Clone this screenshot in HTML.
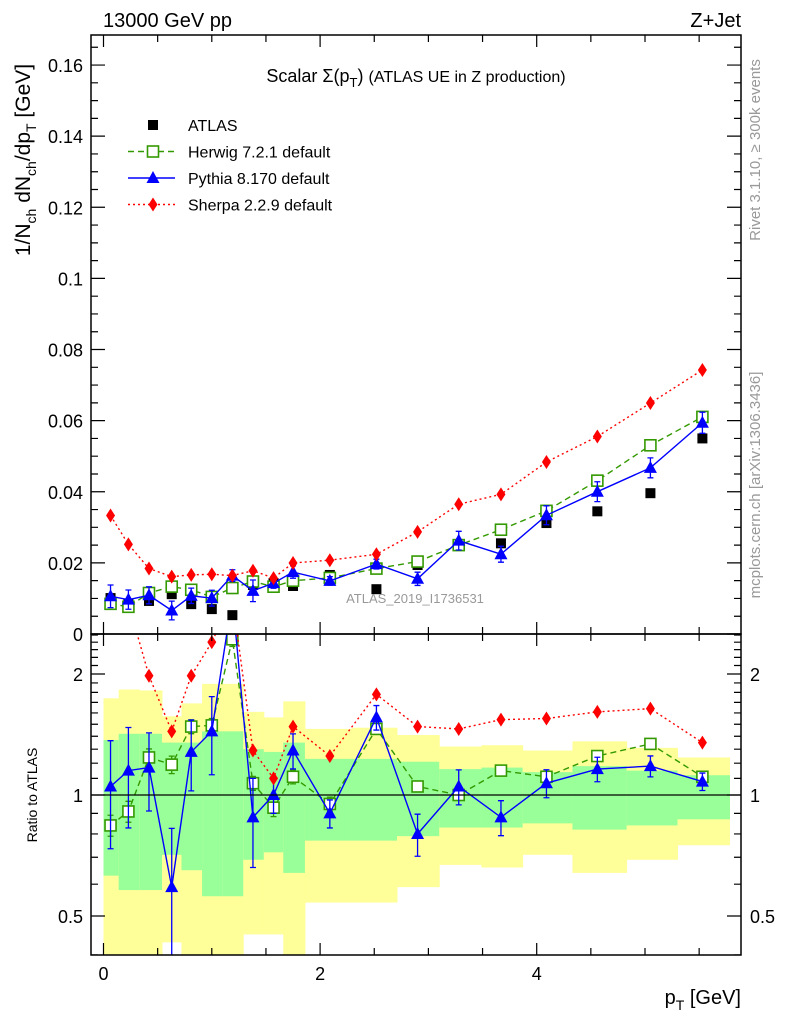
<!DOCTYPE html>
<html><head><meta charset="utf-8"><style>
body{margin:0;background:#fff;}
svg{display:block;font-family:"Liberation Sans",sans-serif;}
</style></head><body>
<svg id="c" width="786" height="1024" xmlns="http://www.w3.org/2000/svg">
<defs>
<clipPath id="cm"><rect x="91" y="35" width="650" height="599"/></clipPath>
<clipPath id="cr"><rect x="91" y="634" width="650" height="321"/></clipPath>
</defs>
<g id="bands" clip-path="url(#cr)"></g>
<g id="marks"></g>
<g id="axes"></g>
<text x="103" y="27" font-size="20">13000 GeV pp</text>
<text x="741" y="27" font-size="20" text-anchor="end">Z+Jet</text>
<text x="416" y="82" font-size="18" text-anchor="middle">Scalar Σ(p<tspan font-size="13" dy="5">T</tspan><tspan dy="-5">) </tspan><tspan font-size="16">(ATLAS UE in Z production)</tspan></text>
<text x="415" y="603" font-size="13" fill="#999" text-anchor="middle">ATLAS_2019_I1736531</text>
<text transform="translate(760,150) rotate(-90)" font-size="15" fill="#999" text-anchor="middle">Rivet 3.1.10, ≥ 300k events</text>
<text transform="translate(760,485) rotate(-90)" font-size="15" fill="#999" text-anchor="middle">mcplots.cern.ch [arXiv:1306.3436]</text>
<text transform="translate(30,160) rotate(-90)" font-size="21" text-anchor="middle">1/N<tspan font-size="14" dy="6">ch</tspan><tspan dy="-6"> dN</tspan><tspan font-size="14" dy="6">ch</tspan><tspan dy="-6">/dp</tspan><tspan font-size="14" dy="6">T</tspan><tspan dy="-6"> [GeV]</tspan></text>
<text transform="translate(37,795) rotate(-90)" font-size="14" text-anchor="middle">Ratio to ATLAS</text>
<text x="741" y="1004" font-size="20" text-anchor="end">p<tspan font-size="14" dy="6">T</tspan><tspan dy="-6"> [GeV]</tspan></text>
<g id="legend"></g>
</svg>
<script>
const binEdges=[0,0.14,0.33,0.54,0.72,0.91,1.1,1.29,1.48,1.66,1.86,2.29,2.71,3.1,3.49,3.87,4.33,4.83,5.3,5.78];
const xCenters=[0.065,0.23,0.42,0.63,0.81,1.0,1.19,1.38,1.57,1.75,2.09,2.52,2.9,3.28,3.67,4.09,4.56,5.05,5.53];
const atlasVals=[0.0101,0.0084,0.0093,0.0112,0.0084,0.0070,0.0053,0.0138,0.0143,0.0135,0.0166,0.0126,0.0194,0.0250,0.0255,0.0312,0.0345,0.0396,0.0550];
const herwigRatio=[0.84,0.91,1.24,1.19,1.48,1.49,2.44,1.07,0.93,1.11,0.95,1.46,1.05,1.0,1.15,1.11,1.25,1.34,1.11];
const pythiaRatio=[1.05,1.15,1.17,0.59,1.28,1.44,3.1,0.88,1.0,1.29,0.9,1.56,0.8,1.05,0.88,1.07,1.16,1.18,1.08];
const sherpaRatio=[3.3,3.0,1.98,1.44,1.98,2.4,3.1,1.29,1.10,1.48,1.25,1.78,1.48,1.46,1.54,1.55,1.61,1.64,1.35];
const pythiaRelErr=[0.3,0.28,0.22,0.4,0.2,0.22,0.1,0.25,0.1,0.1,0.08,0.07,0.12,0.1,0.1,0.08,0.07,0.06,0.05];
const herwigRelErr=[0.06,0.06,0.05,0.05,0.04,0.04,0.04,0.04,0.05,0.04,0.04,0.03,0.02,0.02,0.02,0.02,0.02,0.02,0.02];
const greenHi=[1.37,1.42,1.42,1.35,1.35,1.44,1.44,1.30,1.28,1.35,1.23,1.23,1.21,1.16,1.17,1.14,1.18,1.15,1.12];
const greenLo=[0.63,0.58,0.58,0.71,0.65,0.56,0.56,0.69,0.72,0.64,0.77,0.77,0.79,0.83,0.83,0.85,0.82,0.84,0.87];
const yellowHi=[1.74,1.83,1.82,1.57,1.69,1.89,1.89,1.61,1.56,1.71,1.46,1.47,1.41,1.32,1.33,1.29,1.36,1.31,1.24];
const yellowLo=[0.3,0.3,0.3,0.43,0.3,0.3,0.3,0.45,0.45,0.3,0.54,0.54,0.59,0.67,0.66,0.71,0.64,0.69,0.75];
const mainTicks=[0,0.02,0.04,0.06,0.08,0.1,0.12,0.14,0.16];
const mainTickLabels=["0","0.02","0.04","0.06","0.08","0.1","0.12","0.14","0.16"];
const xTicks=[0,2,4];
const ratioTicks=[0.5,1,2];

const NS="http://www.w3.org/2000/svg";
const X=v=>103.5+v*108.3;
const Y=v=>634-v*3556;
const R=r=>795-121*Math.log2(r);
function el(tag,attrs,parent){const e=document.createElementNS(NS,tag);for(const k in attrs)e.setAttribute(k,attrs[k]);parent.appendChild(e);return e;}
const bands=document.getElementById('bands'),marks=document.getElementById('marks'),axes=document.getElementById('axes'),legend=document.getElementById('legend');

for(let i=0;i<xCenters.length;i++){
  const x0=X(binEdges[i]),x1=X(binEdges[i+1]);
  const y=el('rect',{x:x0,y:R(yellowHi[i]),width:x1-x0+0.5,height:R(yellowLo[i])-R(yellowHi[i]),fill:'#ffff99'},bands);
  
  
  const g=el('rect',{x:x0,y:R(greenHi[i]),width:x1-x0+0.5,height:R(greenLo[i])-R(greenHi[i]),fill:'#99ff99'},bands);
  
  
}
el('line',{x1:91,x2:741,y1:R(1),y2:R(1),stroke:'#000','stroke-width':1.3},axes);

const herwigVals=atlasVals.map((a,i)=>a*herwigRatio[i]);
const pythiaVals=atlasVals.map((a,i)=>a*pythiaRatio[i]);
const sherpaVals=atlasVals.map((a,i)=>a*sherpaRatio[i]);

function marker(type,cx,cy,color,parent,name){
  let m;
  if(type==='sq') m=el('rect',{x:cx-5.5,y:cy-5.5,width:11,height:11,fill:'#fff',stroke:color,'stroke-width':1.6},parent);
  else if(type==='fsq') m=el('rect',{x:cx-5,y:cy-5,width:10,height:10,fill:color},parent);
  else if(type==='tri') m=el('polygon',{points:`${cx},${cy-7} ${cx-6.5},${cy+5} ${cx+6.5},${cy+5}`,fill:color},parent);
  else m=el('polygon',{points:`${cx},${cy-7} ${cx-4.5},${cy} ${cx},${cy+7} ${cx+4.5},${cy}`,fill:color},parent);
  
  
}
function series(vals,relErr,yf,clip,color,dash,type,name){
  const g=el('g',{'clip-path':`url(#${clip})`},marks);
  
  
  if(dash!==null){
    const pts=vals.map((v,i)=>`${X(xCenters[i])},${yf(v)}`).join(' ');
    const l=el('polyline',{points:pts,fill:'none',stroke:color,'stroke-width':1.4,'stroke-dasharray':dash},g);
    
    
  }
  vals.forEach((v,i)=>{
    const cx=X(xCenters[i]);
    if(relErr){
      const hi=yf(v*(1+relErr[i])),lo=yf(v*(1-relErr[i]));
      const e=el('path',{d:`M${cx},${hi}V${lo}M${cx-3},${hi}h6M${cx-3},${lo}h6`,stroke:color,'stroke-width':1.3,fill:'none'},g);
      
      
    }
    marker(type,cx,yf(v),color,g,name+'-point');
  });
}
series(atlasVals,null,Y,'cm','#000',null,'fsq','atlas');
series(herwigVals,herwigRelErr,Y,'cm','#339900','6,4','sq','herwig');
series(pythiaVals,pythiaRelErr,Y,'cm','#0000ff','none','tri','pythia');
series(sherpaVals,null,Y,'cm','#ff0000','2,3','dia','sherpa');
series(herwigRatio,herwigRelErr,R,'cr','#339900','6,4','sq','herwig-ratio');
series(pythiaRatio,pythiaRelErr,R,'cr','#0000ff','none','tri','pythia-ratio');
series(sherpaRatio,null,R,'cr','#ff0000','2,3','dia','sherpa-ratio');

el('rect',{x:91,y:35,width:650,height:599,fill:'none',stroke:'#000','stroke-width':1.5},axes);
el('rect',{x:91,y:634,width:650,height:321,fill:'none',stroke:'#000','stroke-width':1.5},axes);
for(let v=0;v<=5.75;v+=0.5){
  const x=X(v),big=Math.abs(v-Math.round(v))<1e-6&&Math.round(v)%2===0;
  const L=big?12:7;
  el('path',{d:`M${x},35v${L}M${x},634v${-L}M${x},634v${L}M${x},955v${-L}`,stroke:'#000','stroke-width':1.2},axes);
}
xTicks.forEach(v=>{const t=el('text',{x:X(v),y:980,'font-size':18,'text-anchor':'middle'},axes);t.textContent=v;

});
for(let v=0;v<=0.168;v+=0.005){
  const y=Y(v),big=Math.abs(v/0.02-Math.round(v/0.02))<1e-6;const L=big?14:7;
  el('path',{d:`M91,${y}h${L}M741,${y}h${-L}`,stroke:'#000','stroke-width':1.2},axes);
}
mainTicks.forEach((v,i)=>{const t=el('text',{x:83,y:Y(v)+7,'font-size':18,'text-anchor':'end'},axes);t.textContent=mainTickLabels[i];

});
const minor=[0.4,0.6,0.7,0.8,0.9,1.1,1.2,1.3,1.4,1.5,1.6,1.7,1.8,1.9,2.1,2.2,2.3,2.4,2.5];
minor.forEach(r=>{const y=R(r);if(y>634&&y<955)el('path',{d:`M91,${y}h7M741,${y}h-7`,stroke:'#000','stroke-width':1.2},axes);});
ratioTicks.forEach(r=>{const y=R(r);el('path',{d:`M91,${y}h14M741,${y}h-14`,stroke:'#000','stroke-width':1.2},axes);
const t=el('text',{x:83,y:y+7,'font-size':18,'text-anchor':'end'},axes);t.textContent=r;


const t2=el('text',{x:750,y:y+7,'font-size':18},axes);t2.textContent=r;

});
const leg=[["ATLAS",'#000',null,'fsq'],["Herwig 7.2.1 default",'#339900','6,4','sq'],["Pythia 8.170 default",'#0000ff','none','tri'],["Sherpa 2.2.9 default",'#ff0000','2,3','dia']];
leg.forEach((d,i)=>{
  const y=125+i*26.5;
  const g=el('g',{},legend);
  
  
  if(d[2]!==null)el('line',{x1:128,x2:175,y1:y,y2:y,stroke:d[1],'stroke-width':1.4,'stroke-dasharray':d[2]},g);
  marker(d[3],153,y,d[1],g,'legend-marker');
  const t=el('text',{x:188,y:y+6,'font-size':16},g);t.textContent=d[0];
});
</script>
</body></html>
